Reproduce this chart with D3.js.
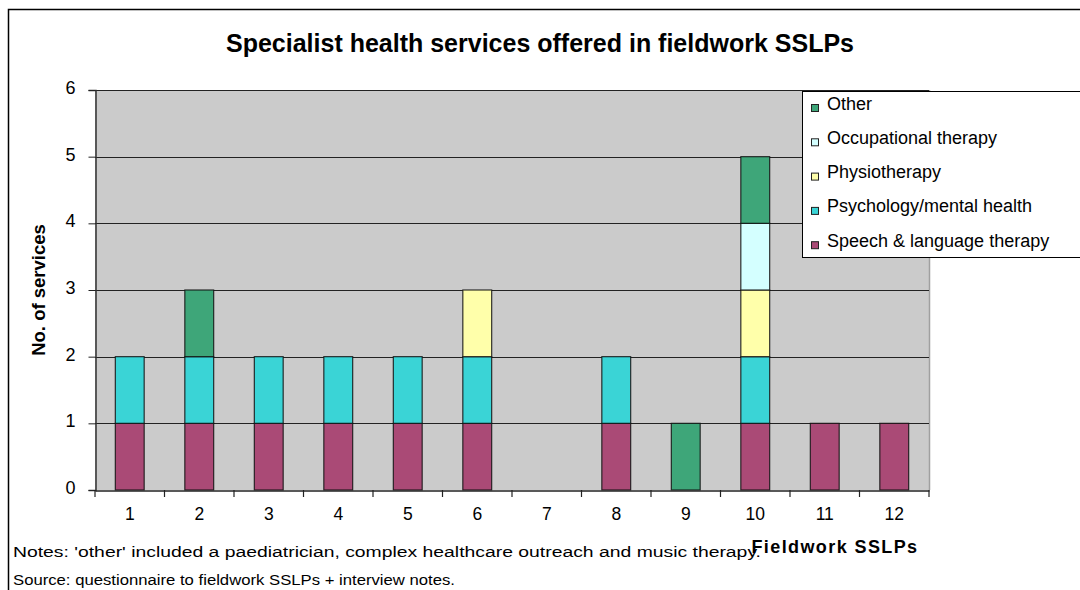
<!DOCTYPE html>
<html>
<head>
<meta charset="utf-8">
<script src="https://cdn.jsdelivr.net/npm/d3@7"></script>
<style>
body { margin: 0; background: #fff; }
text { font-family: "Liberation Sans", Arial, sans-serif; fill: #000; }
</style>
</head>
<body>
<div id="vis"></div>
<script>
var width = 1080,
    height = 590

// categories and series (bottom to top of stack)
var sslps = ["1", "2", "3", "4", "5", "6", "7", "8", "9", "10", "11", "12"];
var seriesNames = ["Speech & language therapy", "Psychology/mental health", "Physiotherapy", "Occupational therapy", "Other"];
var speech = [1, 1, 1, 1, 1, 1, 0, 1, 0, 1, 1, 1];
var psychology = [1, 1, 1, 1, 1, 1, 0, 1, 0, 1, 0, 0];
var physio = [0, 0, 0, 0, 0, 1, 0, 0, 0, 1, 0, 0];
var occupational = [0, 0, 0, 0, 0, 0, 0, 0, 0, 1, 0, 0];
var other = [0, 1, 0, 0, 0, 0, 0, 0, 1, 1, 0, 0];
var yTicks = [0, 1, 2, 3, 4, 5, 6];
var colors = ["#aa4a76", "#3ad4d6", "#ffffaa", "#d4ffff", "#3ea679"];

var margin = {left: 95, right: 151, top: 90, bottom: 100};

var svg = d3.select("#vis").append("svg")
    .attr("width", width)
    .attr("height", height);

// outer chart border (cropped at the right and bottom)
svg.append("rect")
    .attr("x", 8.5).attr("y", 9.5)
    .attr("width", 1100).attr("height", 620)
    .style("fill", "none").style("stroke", "#000").style("stroke-width", 1.5);

var x = d3.scaleBand().domain(sslps).range([margin.left, width - margin.right]).padding(0);
var y = d3.scaleLinear().domain([0, 6]).range([height - margin.bottom, margin.top]);

// plot background
svg.append("rect")
    .attr("x", x.range()[0]).attr("y", y(6))
    .attr("width", x.range()[1] - x.range()[0]).attr("height", y(0) - y(6))
    .style("fill", "#cbcbcb");

// right edge of plot area
svg.append("line")
    .attr("x1", x.range()[1] + 0.5).attr("x2", x.range()[1] + 0.5)
    .attr("y1", y(6)).attr("y2", y(0))
    .style("stroke", "#a0a0a0").style("stroke-width", 1.5);

// gridlines
svg.selectAll(".grid")
    .data(yTicks.filter(function(d) { return d > 0; }))
    .enter().append("line")
    .attr("class", "grid")
    .attr("x1", x.range()[0]).attr("x2", x.range()[1])
    .attr("y1", function(d) { return Math.round(y(d)) + 0.5; })
    .attr("y2", function(d) { return Math.round(y(d)) + 0.5; })
    .style("stroke", "#222").style("stroke-width", 1);

// stacked bars
var table = sslps.map(function(s, i) {
    return {sslp: s, s0: speech[i], s1: psychology[i], s2: physio[i], s3: occupational[i], s4: other[i]};
});
var stack = d3.stack().keys(["s0", "s1", "s2", "s3", "s4"])(table);
var barW = x.step() * 0.415;

svg.selectAll(".layer")
    .data(stack)
    .enter().append("g")
    .attr("class", "layer")
    .style("fill", function(d, i) { return colors[i]; })
    .selectAll("rect")
    .data(function(d) { return d.filter(function(p) { return p[1] > p[0]; }); })
    .enter().append("rect")
    .attr("x", function(d) { return x(d.data.sslp) + (x.step() - barW) / 2; })
    .attr("y", function(d) { return y(d[1]); })
    .attr("width", barW)
    .attr("height", function(d) { return y(d[0]) - y(d[1]); })
    .style("stroke", "#111").style("stroke-width", 1.2).style("stroke-opacity", 0.85);

// y axis
var yAxis = svg.append("g")
    .attr("transform", "translate(" + (margin.left + 0.5) + ",0)")
    .call(d3.axisLeft(y).tickValues(yTicks).tickSize(7).tickPadding(13).tickFormat(d3.format("d")));
yAxis.select(".domain").style("stroke", "#333").style("stroke-width", 1.5);
yAxis.selectAll("line").style("stroke", "#222");
yAxis.selectAll("text").style("font-size", "18px").attr("dy", "0.2em");

// x axis
var xAxis = svg.append("g")
    .attr("transform", "translate(0," + (y(0) + 0.5) + ")")
    .call(d3.axisBottom(x).tickSize(0).tickPadding(17));
xAxis.select(".domain").style("stroke", "#222").style("stroke-width", 1.5);
xAxis.selectAll("text").style("font-size", "17.5px");

// category boundary ticks
svg.selectAll(".xtick")
    .data(d3.range(sslps.length + 1))
    .enter().append("line")
    .attr("class", "xtick")
    .attr("x1", function(i) { return x.range()[0] + i * x.step(); })
    .attr("x2", function(i) { return x.range()[0] + i * x.step(); })
    .attr("y1", y(0)).attr("y2", y(0) + 7)
    .style("stroke", "#222").style("stroke-width", 1.2);

// title
svg.append("text")
    .attr("x", 540).attr("y", 52)
    .attr("text-anchor", "middle")
    .style("font-size", "25px").style("font-weight", "bold")
    .text("Specialist health services offered in fieldwork SSLPs");

// axis titles
svg.append("text")
    .attr("transform", "translate(45," + y(3) + ") rotate(-90)")
    .attr("text-anchor", "middle")
    .style("font-size", "18.5px").style("font-weight", "bold")
    .text("No. of services");

svg.append("text")
    .attr("x", 835).attr("y", 553)
    .attr("text-anchor", "middle")
    .style("font-size", "18px").style("font-weight", "bold").style("letter-spacing", "1.4px")
    .text("Fieldwork SSLPs");

// notes
svg.append("text")
    .attr("x", 13).attr("y", 557)
    .attr("textLength", 748).attr("lengthAdjust", "spacingAndGlyphs")
    .style("font-size", "15.5px")
    .text("Notes: 'other' included a paediatrician, complex healthcare outreach and music therapy.");
svg.append("text")
    .attr("x", 13).attr("y", 585)
    .attr("textLength", 442).attr("lengthAdjust", "spacingAndGlyphs")
    .style("font-size", "15.5px")
    .text("Source: questionnaire to fieldwork SSLPs + interview notes.");

// legend
var legend = svg.append("g").attr("id", "legend");
legend.append("rect")
    .attr("x", 802.5).attr("y", 91.5)
    .attr("width", 300).attr("height", 166)
    .style("fill", "#fff").style("stroke", "#000").style("stroke-width", 1);

var legendOrder = [4, 3, 2, 1, 0];
var legenditem = legend.selectAll(".legenditem")
    .data(legendOrder)
    .enter().append("g")
    .attr("class", "legenditem")
    .attr("transform", function(d, i) { return "translate(0," + (i * 34.3) + ")"; });

legenditem.append("rect")
    .attr("x", 811.5).attr("y", 104.5)
    .attr("width", 7).attr("height", 7)
    .style("fill", function(d) { return colors[d]; })
    .style("stroke", "#222").style("stroke-width", 1);

legenditem.append("text")
    .attr("x", 827).attr("y", 109.5)
    .style("font-size", "18px")
    .text(function(d) { return seriesNames[d]; });
</script>
</body>
</html>
